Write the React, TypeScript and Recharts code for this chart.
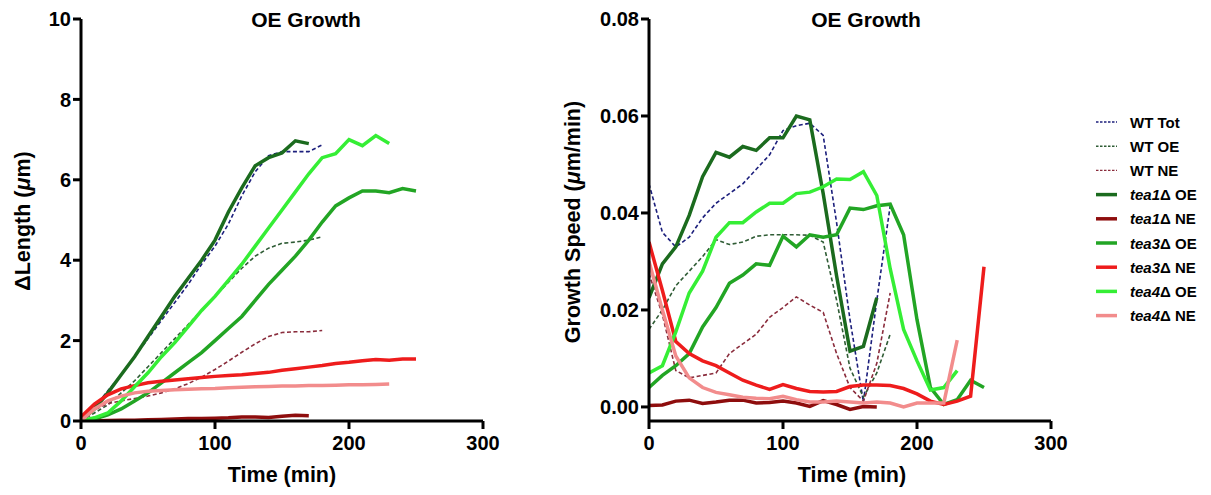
import React from "react";
import { LineChart, Line, XAxis, YAxis } from "recharts";

const TIMES = [0, 10, 20, 30, 40, 50, 60, 70, 80, 90, 100, 110, 120, 130, 140, 150, 160, 170, 180, 190, 200, 210, 220, 230, 240, 250];

const X_TICKS = [0, 100, 200, 300];
const LEN_TICKS = [0, 2, 4, 6, 8, 10];
const SPD_TICKS = [0, 0.02, 0.04, 0.06, 0.08];

// ΔLength (µm)
const lenWtTot = [0, 0.35, 0.75, 1.15, 1.6, 2.05, 2.5, 2.95, 3.4, 3.9, 4.35, 4.9, 5.6, 6.2, 6.6, 6.7, 6.7, 6.7, 6.87];
const lenWtOE = [0, 0.2, 0.4, 0.7, 1.0, 1.35, 1.7, 2.05, 2.4, 2.75, 3.1, 3.45, 3.8, 4.1, 4.3, 4.42, 4.45, 4.5, 4.58];
const lenWtNE = [0, 0.28, 0.43, 0.5, 0.56, 0.62, 0.7, 0.8, 0.93, 1.09, 1.28, 1.49, 1.71, 1.92, 2.1, 2.2, 2.22, 2.22, 2.25];
const lenTea1OE = [0, 0.3, 0.7, 1.15, 1.6, 2.1, 2.6, 3.1, 3.55, 4.0, 4.5, 5.2, 5.8, 6.35, 6.55, 6.67, 6.97, 6.9];
const lenTea1NE = [0, 0.0, 0.01, 0.02, 0.02, 0.03, 0.04, 0.05, 0.06, 0.06, 0.07, 0.08, 0.1, 0.1, 0.09, 0.12, 0.14, 0.13];
const lenTea3OE = [0, 0.05, 0.15, 0.3, 0.5, 0.7, 0.95, 1.2, 1.45, 1.7, 2.0, 2.3, 2.6, 3.0, 3.4, 3.75, 4.1, 4.5, 4.95, 5.35, 5.55, 5.72, 5.72, 5.68, 5.78, 5.72];
const lenTea3NE = [0.1, 0.42, 0.65, 0.8, 0.88, 0.95, 0.99, 1.02, 1.05, 1.08, 1.11, 1.13, 1.15, 1.18, 1.21, 1.26, 1.3, 1.34, 1.38, 1.43, 1.46, 1.5, 1.53, 1.51, 1.54, 1.54];
const lenTea4OE = [0, 0.08, 0.2, 0.5, 0.85, 1.2, 1.6, 1.95, 2.35, 2.75, 3.1, 3.5, 3.9, 4.35, 4.8, 5.25, 5.7, 6.15, 6.55, 6.65, 7.0, 6.85, 7.1, 6.9];
const lenTea4NE = [0, 0.3, 0.5, 0.62, 0.7, 0.74, 0.76, 0.78, 0.79, 0.8, 0.81, 0.83, 0.84, 0.85, 0.86, 0.87, 0.87, 0.88, 0.88, 0.89, 0.9, 0.9, 0.91, 0.92];

// Growth speed (µm/min)
const spdWtTot = [0.046, 0.036, 0.033, 0.035, 0.039, 0.042, 0.044, 0.046, 0.049, 0.052, 0.057, 0.058, 0.0585, 0.056, 0.038, 0.018, 0.001, 0.022, 0.0415];
const spdWtOE = [0.016, 0.02, 0.025, 0.028, 0.031, 0.0345, 0.0335, 0.034, 0.0352, 0.0355, 0.0355, 0.0355, 0.0354, 0.034, 0.022, 0.008, 0.002, 0.007, 0.015];
const spdWtNE = [0.0275, 0.019, 0.0075, 0.006, 0.0065, 0.007, 0.011, 0.013, 0.015, 0.0185, 0.0205, 0.0227, 0.021, 0.0195, 0.011, 0.004, 0.0012, 0.009, 0.0235];
const spdTea1OE = [0.0225, 0.0295, 0.033, 0.0395, 0.0475, 0.0525, 0.0515, 0.0537, 0.0529, 0.0555, 0.0555, 0.06, 0.0592, 0.044, 0.027, 0.0115, 0.0125, 0.0225];
const spdTea1NE = [0.0003, 0.0004, 0.0012, 0.0014, 0.0007, 0.001, 0.0014, 0.0014, 0.0008, 0.0009, 0.0012, 0.0008, 0.0001, 0.0013, 0.0005, -0.0005, 0.0001, 0.0];
const spdTea3OE = [0.004, 0.0065, 0.0085, 0.011, 0.0165, 0.0205, 0.0255, 0.0272, 0.0295, 0.0292, 0.0352, 0.033, 0.0355, 0.035, 0.0355, 0.041, 0.0407, 0.0415, 0.0418, 0.0355, 0.018, 0.004, 0.0005, 0.0015, 0.0055, 0.004];
const spdTea3NE = [0.034, 0.024, 0.0135, 0.011, 0.0095, 0.0085, 0.007, 0.0055, 0.0045, 0.0036, 0.0046, 0.0038, 0.0032, 0.0031, 0.0032, 0.0042, 0.0045, 0.0045, 0.0044, 0.0038, 0.0027, 0.0012, 0.0005, 0.0012, 0.0022, 0.0289];
const spdTea4OE = [0.007, 0.0085, 0.0155, 0.0235, 0.028, 0.035, 0.038, 0.038, 0.0402, 0.042, 0.042, 0.044, 0.0443, 0.0454, 0.047, 0.0469, 0.0485, 0.0436, 0.0285, 0.016, 0.0095, 0.0035, 0.004, 0.0075];
const spdTea4NE = [0.03, 0.02, 0.0105, 0.006, 0.004, 0.003, 0.0025, 0.002, 0.0018, 0.0017, 0.0022, 0.0015, 0.001, 0.001, 0.0012, 0.001, 0.0008, 0.001, 0.0008, 0.0, 0.0008, 0.0008, 0.0008, 0.0138];

type Series = { key: string; name: string; italic?: string; color: string; dashed: boolean };

const SERIES: Series[] = [
  { key: "wtTot", name: "WT Tot", color: "#1c1f7c", dashed: true },
  { key: "wtOE", name: "WT OE", color: "#2f5c35", dashed: true },
  { key: "wtNE", name: "WT NE", color: "#8a2c3c", dashed: true },
  { key: "tea1OE", italic: "tea1", name: "Δ OE", color: "#1b6b1e", dashed: false },
  { key: "tea1NE", italic: "tea1", name: "Δ NE", color: "#8e0d0d", dashed: false },
  { key: "tea3OE", italic: "tea3", name: "Δ OE", color: "#22a524", dashed: false },
  { key: "tea3NE", italic: "tea3", name: "Δ NE", color: "#ee1c1c", dashed: false },
  { key: "tea4OE", italic: "tea4", name: "Δ OE", color: "#35ee35", dashed: false },
  { key: "tea4NE", italic: "tea4", name: "Δ NE", color: "#f28c8c", dashed: false },
];

const LEN_VALUES: Record<string, number[]> = {
  wtTot: lenWtTot, wtOE: lenWtOE, wtNE: lenWtNE,
  tea1OE: lenTea1OE, tea1NE: lenTea1NE, tea3OE: lenTea3OE,
  tea3NE: lenTea3NE, tea4OE: lenTea4OE, tea4NE: lenTea4NE,
};
const SPD_VALUES: Record<string, number[]> = {
  wtTot: spdWtTot, wtOE: spdWtOE, wtNE: spdWtNE,
  tea1OE: spdTea1OE, tea1NE: spdTea1NE, tea3OE: spdTea3OE,
  tea3NE: spdTea3NE, tea4OE: spdTea4OE, tea4NE: spdTea4NE,
};

function buildTable(values: Record<string, number[]>) {
  return TIMES.map((t, i) => {
    const row: Record<string, number | undefined> = { t };
    for (const s of SERIES) row[s.key] = values[s.key][i];
    return row;
  });
}

const lenData = buildTable(LEN_VALUES);
const spdData = buildTable(SPD_VALUES);

const FONT = "'Liberation Sans', Arial, Helvetica, sans-serif";
const W = 1211;
const H = 495;
const Y_W = 60;
const X_H = 30;
const tickStyle = { fill: "#000", fontSize: 20, fontWeight: "bold", fontFamily: FONT };
const axisStyle = { stroke: "#000", strokeWidth: 3 };

function renderLines() {
  return SERIES.map((s) => (
    <Line
      key={s.key}
      type="linear"
      dataKey={s.key}
      stroke={s.color}
      strokeWidth={s.dashed ? 1.6 : 3.5}
      strokeDasharray={s.dashed ? "4 2.5" : undefined}
      dot={false}
      activeDot={false}
      isAnimationActive={false}
    />
  ));
}

function Panel({ data, left, right, yDomain, yTicks, fmt }: any) {
  return (
    <div style={{ position: "absolute", left: 0, top: 0 }}>
      <LineChart
        width={W}
        height={H}
        data={data}
        margin={{ top: 19, left: left - Y_W, right: W - right, bottom: H - 421 - X_H }}
      >
        <XAxis
          dataKey="t"
          type="number"
          domain={[0, 300]}
          ticks={X_TICKS}
          height={X_H}
          axisLine={axisStyle}
          tickLine={axisStyle}
          tickSize={8}
          tickMargin={7}
          tick={tickStyle}
          interval={0}
          allowDataOverflow
        />
        <YAxis
          type="number"
          domain={yDomain}
          ticks={yTicks}
          width={Y_W}
          axisLine={axisStyle}
          tickLine={axisStyle}
          tickSize={8}
          tickMargin={2}
          tick={tickStyle}
          tickFormatter={fmt}
          interval={0}
          allowDataOverflow
        />
        {renderLines()}
      </LineChart>
    </div>
  );
}

function Overlay() {
  const legendTop = 122;
  const step = 24.2;
  return (
    <svg width={W} height={H} style={{ position: "absolute", left: 0, top: 0, pointerEvents: "none" }}>
      <g fontFamily={FONT} fontWeight="bold" fill="#000">
        <text x={306} y={27} fontSize={21} textAnchor="middle">OE Growth</text>
        <text x={866} y={27} fontSize={21} textAnchor="middle">OE Growth</text>
        <text x={282} y={482} fontSize={21.5} textAnchor="middle">Time (min)</text>
        <text x={852} y={482} fontSize={21.5} textAnchor="middle">Time (min)</text>
        <text x={0} y={0} fontSize={21.5} textAnchor="middle" transform="translate(29.5,221) rotate(-90)">
          ΔLength (<tspan fontStyle="italic">μ</tspan>m)
        </text>
        <text x={0} y={0} fontSize={21.5} textAnchor="middle" transform="translate(580,222) rotate(-90)">
          Growth Speed (<tspan fontStyle="italic">μ</tspan>m/min)
        </text>
        {SERIES.map((s, i) => {
          const cy = legendTop + i * step;
          return (
            <g key={s.key}>
              <line
                x1={1096}
                x2={1117}
                y1={cy}
                y2={cy}
                stroke={s.color}
                strokeWidth={s.dashed ? 1.4 : 3.5}
                strokeDasharray={s.dashed ? "2.5 1.5" : undefined}
              />
              <text x={1130} y={cy + 5.5} fontSize={15}>
                {s.italic ? <tspan fontStyle="italic">{s.italic}</tspan> : null}
                {s.name}
              </text>
            </g>
          );
        })}
      </g>
    </svg>
  );
}

export default function App() {
  return (
    <div style={{ position: "absolute", left: 0, top: 0, width: W, height: H, background: "#fff" }}>
      <Panel data={lenData} left={81} right={483} yDomain={[0, 10]} yTicks={LEN_TICKS} fmt={(v: number) => String(v)} />
      <Panel data={spdData} left={649} right={1051} yDomain={[-0.0029, 0.08]} yTicks={SPD_TICKS} fmt={(v: number) => v.toFixed(2)} />
      <Overlay />
    </div>
  );
}
